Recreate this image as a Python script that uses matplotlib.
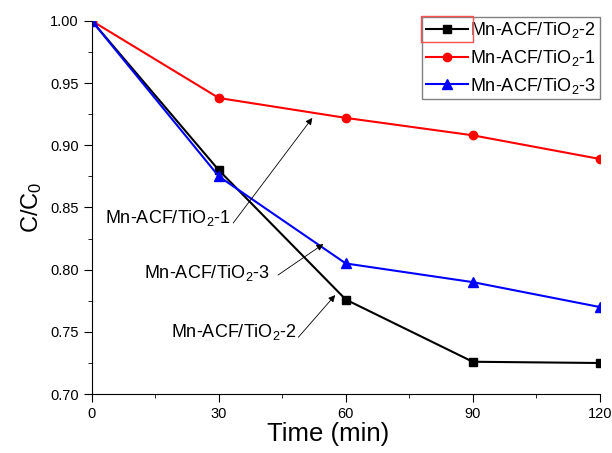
import matplotlib
matplotlib.use("Agg")
import matplotlib.pyplot as plt
from matplotlib.ticker import MultipleLocator, FormatStrFormatter
from matplotlib.patches import Rectangle

plt.rcParams['font.family'] = ['Liberation Sans', 'DejaVu Sans']
plt.rcParams['mathtext.default'] = 'regular'

# === DATA ===
time = [0, 30, 60, 90, 120]
mn2 = [1.000, 0.880, 0.776, 0.726, 0.725]
mn1 = [1.000, 0.938, 0.922, 0.908, 0.889]
mn3 = [1.000, 0.875, 0.805, 0.790, 0.770]

labels = ["Mn-ACF/TiO$_2$-2", "Mn-ACF/TiO$_2$-1", "Mn-ACF/TiO$_2$-3"]

# annotation: text, text anchor (right edge, centre), arrow tail, arrow tip
notes = [
    ("Mn-ACF/TiO$_2$-1", (32.9, 0.8415), (33.4, 0.8375), (52.1, 0.922)),
    ("Mn-ACF/TiO$_2$-3", (42.1, 0.7970), (44.0, 0.7957), (54.7, 0.8206)),
    ("Mn-ACF/TiO$_2$-2", (48.5, 0.7500), (48.8, 0.7457), (57.5, 0.7796)),
]

# === Plot setup ===
fig = plt.figure(figsize=(6.12, 4.53), dpi=100)
ax = fig.add_axes([0.150, 0.130, 0.830, 0.824])

ax.plot(time, mn2, color='black', marker='s', ms=6, lw=1.5, label=labels[0])
ax.plot(time, mn1, color='red', marker='o', ms=6, lw=1.5, label=labels[1])
ax.plot(time, mn3, color='blue', marker='^', ms=7, lw=1.5, label=labels[2])

for txt, pos, tail, tip in notes:
    ax.text(pos[0], pos[1], txt, fontsize=13, ha='right', va='center')
    ax.annotate('', xy=tip, xytext=tail,
                arrowprops=dict(arrowstyle='-|>', color='black', lw=0.6,
                                mutation_scale=10, shrinkA=0, shrinkB=0))

ax.set_xlim(0, 120)
ax.set_ylim(0.70, 1.00)
ax.xaxis.set_major_locator(MultipleLocator(30))
ax.xaxis.set_minor_locator(MultipleLocator(15))
ax.yaxis.set_major_locator(MultipleLocator(0.05))
ax.yaxis.set_minor_locator(MultipleLocator(0.025))
ax.yaxis.set_major_formatter(FormatStrFormatter('%.2f'))
ax.tick_params(which='both', direction='out', labelsize=10.5)
ax.tick_params(which='major', length=6)
ax.tick_params(which='minor', length=3)
ax.spines['top'].set_visible(False)
ax.spines['right'].set_visible(False)

ax.set_xlabel("Time (min)", fontsize=18.5)
ax.xaxis.set_label_coords(0.465, -0.075)
ax.set_ylabel("C/C$_0$", fontsize=17, labelpad=4)

leg = ax.legend(loc='upper right', bbox_to_anchor=(1.0, 1.011), fontsize=13,
                fancybox=False, edgecolor='gray', framealpha=1,
                handlelength=2.3, borderpad=0.2, labelspacing=0.42,
                handletextpad=0.15, borderaxespad=0)
leg.get_frame().set_linewidth(1.0)

# red selection box around the first legend handle
fig.canvas.draw()
bb = leg.legend_handles[0].get_window_extent(fig.canvas.get_renderer())
inv = fig.transFigure.inverted()
(x0, y0), (x1, y1) = inv.transform([[bb.x0 - 1, bb.y0 - 9], [bb.x1 + 1, bb.y1 + 9]])
fig.add_artist(Rectangle((x0, y0), x1 - x0, y1 - y0, transform=fig.transFigure,
                         fill=False, edgecolor='#ff5050', lw=1.0))

fig.savefig("out.png", dpi=100)
